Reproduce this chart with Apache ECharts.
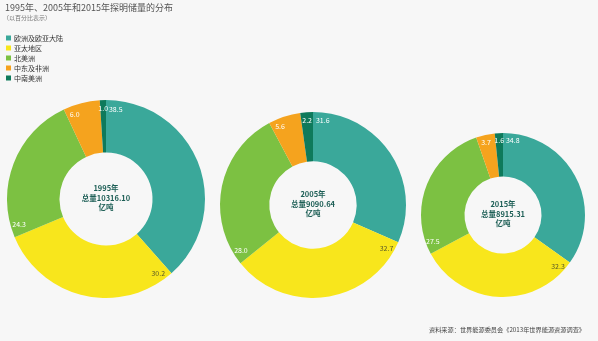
<!DOCTYPE html>
<html>
<head>
<meta charset="utf-8">
<script src="https://cdn.jsdelivr.net/npm/echarts@6/dist/echarts.min.js"></script>
<style>
  html, body { margin: 0; padding: 0; background: #f7f7f7; }
  #chart { width: 598px; height: 341px; }
</style>
</head>
<body>
<div id="chart"></div>
<script>
// Regions, in the order the slices run clockwise from 12 o'clock
const categories = ['欧洲及欧亚大陆', '亚太地区', '北美洲', '中东及非洲', '中南美洲'];
// Share of proven reserves per region (%)
const share1995 = [38.5, 30.2, 24.3, 6.0, 1.0];
const share2005 = [31.6, 32.7, 28.0, 5.6, 2.2];
const share2015 = [34.8, 32.3, 27.5, 3.7, 1.6];
const years = ['1995年', '2005年', '2015年'];
const totals = ['10316.10', '9090.64', '8915.31'];
const unit = '亿吨';

const colors = ['#3aa89a', '#f8e61c', '#7cc142', '#f5a31e', '#0e7a5b'];
const labelColors = ['#ffffff', '#5a5a28', '#ffffff', '#ffffff', '#ffffff'];
const shares = [share1995, share2005, share2015];

// Ring geometry (pixels): center and outer radius of each year's donut
const rings = [
  { cx: 106, cy: 199, r: 99 },
  { cx: 313, cy: 205, r: 93 },
  { cx: 503, cy: 215, r: 82 }
];
const innerRatio = 0.47;
const FONT = '"Noto Sans CJK SC", "Noto Sans", sans-serif';

// Put each value label just past the clockwise start of its slice, near the rim
function placeLabel(params) {
  const si = params.seriesIndex;
  const vals = shares[si];
  const ring = rings[si];
  const total = vals.reduce((a, b) => a + b, 0);
  let cum = 0;
  for (let i = 0; i < params.dataIndex; i++) cum += vals[i];
  const startDeg = cum / total * 360;
  const sliceDeg = vals[params.dataIndex] / total * 360;
  const rr = ring.r * 0.915;
  const offPx = 3 + params.labelRect.width / 2;
  const offDeg = Math.min(offPx / rr * 180 / Math.PI, sliceDeg / 2);
  const a = (startDeg + offDeg) * Math.PI / 180;
  return {
    x: ring.cx + rr * Math.sin(a),
    y: ring.cy - rr * Math.cos(a),
    align: 'center',
    verticalAlign: 'middle'
  };
}

const series = shares.map((vals, si) => ({
  type: 'pie',
  center: [rings[si].cx, rings[si].cy],
  radius: [rings[si].r * innerRatio, rings[si].r],
  startAngle: 90,
  clockwise: true,
  silent: true,
  animation: false,
  avoidLabelOverlap: false,
  labelLine: { show: false },
  label: {
    show: true,
    position: 'inside',
    fontSize: 7,
    fontFamily: FONT,
    formatter: p => p.value.toFixed(1)
  },
  labelLayout: placeLabel,
  data: vals.map((v, i) => ({
    name: categories[i],
    value: v,
    itemStyle: { color: colors[i] },
    label: { color: labelColors[i] }
  }))
}));

// Year / total text in the hole of each donut
const centerTexts = rings.map((ring, si) => ({
  type: 'text',
  x: ring.cx,
  y: ring.cy - 1,
  silent: true,
  style: {
    text: years[si] + '\n总量' + totals[si] + '\n' + unit,
    align: 'center',
    verticalAlign: 'middle',
    fill: '#1c5e55',
    font: 'bold 7.5px ' + FONT,
    lineHeight: 9.5
  }
}));

const chart = echarts.init(document.getElementById('chart'), null, { renderer: 'canvas' });
chart.setOption({
  backgroundColor: '#f7f7f7',
  animation: false,
  color: colors,
  title: [
    {
      text: '1995年、2005年和2015年探明储量的分布',
      left: 5, top: 3, padding: 0,
      textStyle: { fontSize: 9, fontWeight: 'normal', color: '#555555', fontFamily: FONT }
    },
    {
      text: '（以百分比表示）',
      left: 3, top: 15, padding: 0,
      textStyle: { fontSize: 6, fontWeight: 'normal', color: '#777777', fontFamily: FONT }
    },
    {
      text: '资料来源：世界能源委员会《2013年世界能源资源调查》',
      right: 13, top: 327, padding: 0,
      textStyle: { fontSize: 6.2, fontWeight: 'normal', color: '#444444', fontFamily: FONT }
    }
  ],
  legend: {
    orient: 'vertical',
    left: 6, top: 34, padding: 0,
    itemWidth: 5, itemHeight: 5,
    itemGap: 2,
    icon: 'rect',
    selectedMode: false,
    data: categories,
    textStyle: { fontSize: 7, color: '#333333', fontFamily: FONT, lineHeight: 8, padding: [0, 0, 0, -2] }
  },
  graphic: centerTexts,
  series: series
});
</script>
</body>
</html>
